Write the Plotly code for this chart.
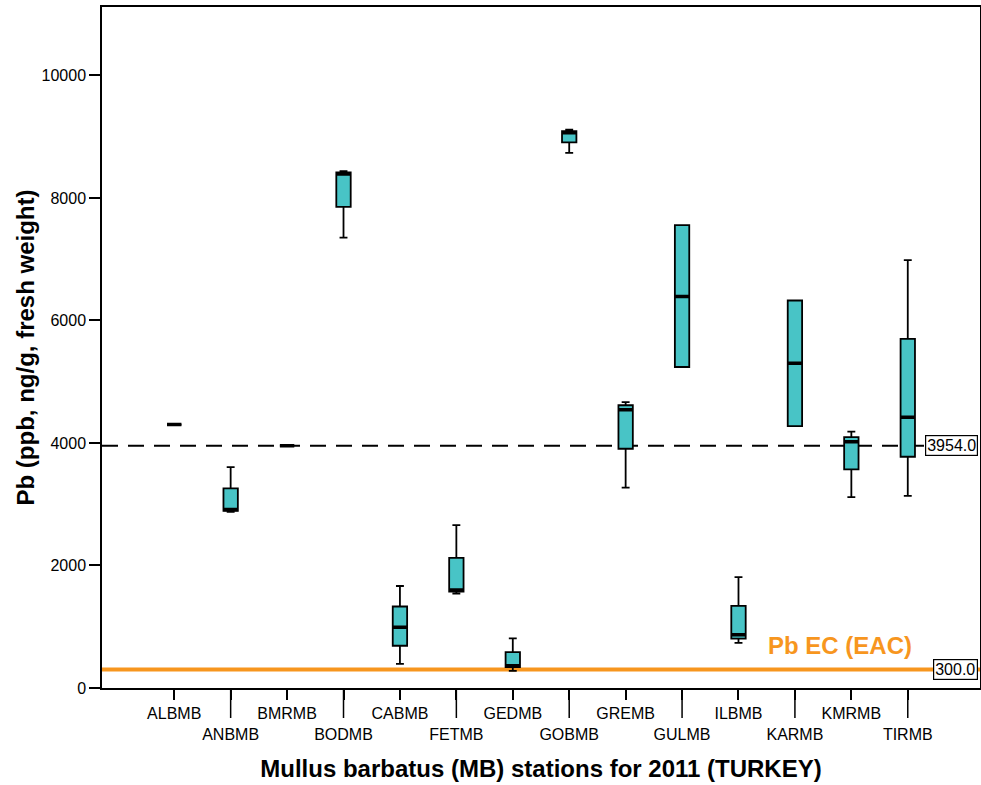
import plotly.graph_objects as go

stations = ["ALBMB", "ANBMB", "BMRMB", "BODMB", "CABMB", "FETMB", "GEDMB",
            "GOBMB", "GREMB", "GULMB", "ILBMB", "KARMB", "KMRMB", "TIRMB"]
lower = [4300, 2875, 3955, 7350, 395, 1540, 280, 8735, 3270, 5240, 735, 4275, 3115, 3135]
q1 = [4300, 2890, 3955, 7855, 690, 1575, 340, 8905, 3905, 5240, 805, 4275, 3570, 3775]
median = [4300, 2915, 3955, 8390, 990, 1600, 365, 9065, 4540, 6390, 870, 5300, 4020, 4420]
q3 = [4300, 3260, 3955, 8415, 1330, 2125, 585, 9090, 4615, 7555, 1340, 6325, 4095, 5700]
upper = [4300, 3605, 3955, 8435, 1665, 2660, 810, 9115, 4665, 7555, 1810, 6325, 4185, 6985]

y_ticks = [0, 2000, 4000, 6000, 8000, 10000]

mean_line = 3954.0
eac_line = 300.0
eac_label = "Pb EC (EAC)"

xs = list(range(len(stations)))
box_color = "#48C4C6"
orange = "#F7961E"

fig = go.Figure()
fig.add_trace(go.Box(
    x=xs, q1=q1, median=median, q3=q3, lowerfence=lower, upperfence=upper,
    width=0.255, whiskerwidth=0.55, fillcolor=box_color,
    line=dict(color="black", width=1.8), boxpoints=False, hoverinfo="skip",
    showlegend=False,
))
# thick median bars
fig.add_trace(go.Box(
    x=xs, q1=median, median=median, q3=median, lowerfence=median, upperfence=median,
    width=0.255, whiskerwidth=0, fillcolor=box_color,
    line=dict(color="black", width=3.5), boxpoints=False, hoverinfo="skip",
    showlegend=False,
))

# reference lines
fig.add_shape(type="line", xref="paper", yref="y", x0=0, x1=1, y0=mean_line, y1=mean_line,
              line=dict(color="black", width=2, dash="16px,10px"), layer="below")
fig.add_shape(type="line", xref="paper", yref="y", x0=0, x1=1, y0=eac_line, y1=eac_line,
              line=dict(color=orange, width=4), layer="below")

lab_font = dict(family="Liberation Sans, Arial", size=16, color="black")
fig.add_annotation(xref="paper", yref="y", x=0.998, y=mean_line, text=f"{mean_line:.1f}",
                   showarrow=False, xanchor="right", yanchor="middle", font=lab_font,
                   bgcolor="white", bordercolor="black", borderwidth=1.2, borderpad=1)
fig.add_annotation(xref="paper", yref="y", x=0.998, y=eac_line, text=f"{eac_line:.1f}",
                   showarrow=False, xanchor="right", yanchor="middle", font=lab_font,
                   bgcolor="white", bordercolor="black", borderwidth=1.2, borderpad=1)
fig.add_annotation(x=11.8, y=eac_line, yshift=24, text=f"<b>{eac_label}</b>",
                   showarrow=False, xanchor="center", yanchor="middle",
                   font=dict(family="Liberation Sans, Arial", size=24, color=orange))

# long ticks for staggered labels
for i in xs:
    if i % 2 == 1:
        fig.add_shape(type="line", xref="x", yref="paper", x0=i, x1=i, y0=0, y1=-30 / 681,
                      line=dict(color="black", width=1.5))

ticktext = [s if i % 2 == 0 else "<br>" + s for i, s in enumerate(stations)]

fig.update_layout(
    width=981, height=785,
    margin=dict(l=102, r=1, t=7, b=97),
    plot_bgcolor="white", paper_bgcolor="white",
    font=dict(family="Liberation Sans, Arial", color="black"),
    showlegend=False,
    xaxis=dict(
        range=[-1.28, 14.28], tickmode="array", tickvals=xs, ticktext=ticktext,
        tickangle=0, automargin=False,
        ticks="outside", ticklen=10, tickwidth=1.5, tickcolor="black",
        showline=True, linecolor="black", linewidth=1.5, mirror=True,
        showgrid=False, zeroline=False,
        tickfont=dict(size=16),
        title=dict(text="<b>Mullus barbatus (MB) stations for 2011 (TURKEY)</b>",
                   font=dict(size=24), standoff=18),
    ),
    yaxis=dict(
        range=[0, 11116], tickmode="array", tickvals=y_ticks,
        ticktext=[str(v) for v in y_ticks], automargin=False,
        ticks="outside", ticklen=11, tickwidth=1.5, tickcolor="black",
        showline=True, linecolor="black", linewidth=1.5, mirror=True,
        showgrid=False, zeroline=False,
        tickfont=dict(size=16),
        title=dict(text="<b>Pb (ppb, ng/g, fresh weight)</b>", font=dict(size=24), standoff=0),
    ),
)

fig.write_html("out.html", config={"displayModeBar": False},
               post_script="document.body.style.margin='0';")
